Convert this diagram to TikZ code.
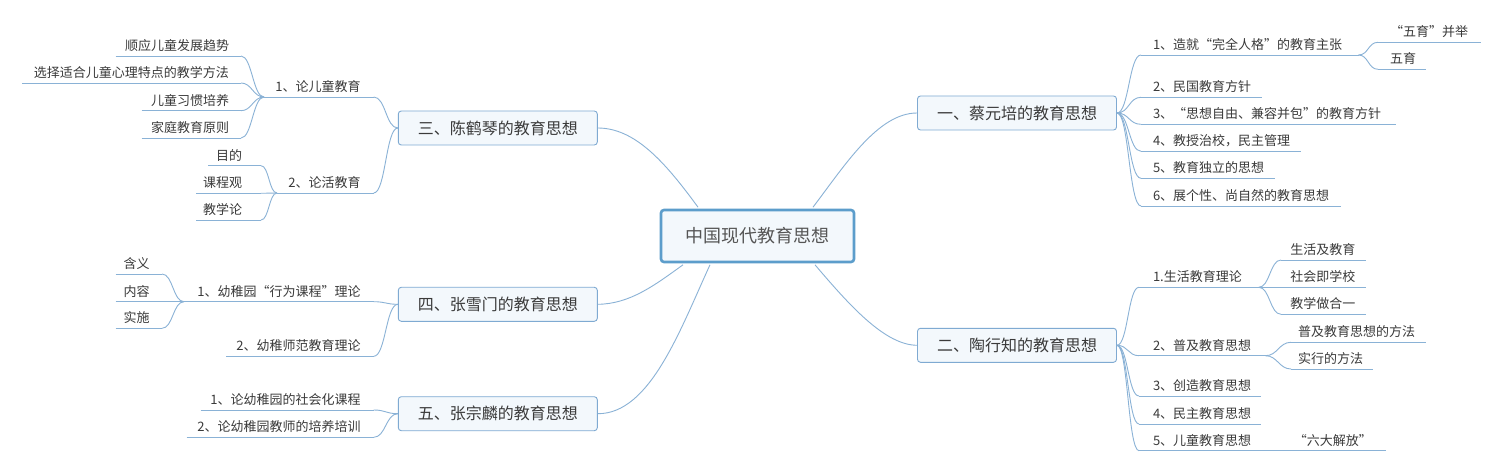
\documentclass[tikz,border=0pt]{standalone}
\usepackage{fontspec}
\setmainfont{Noto Sans CJK SC}
\usetikzlibrary{calc}
\definecolor{lnc}{HTML}{8AB2D6}
\definecolor{bdr}{HTML}{7FAAD2}
\definecolor{bfill}{HTML}{F3F8FC}
\definecolor{cbdr}{HTML}{5C9DCB}
\definecolor{txt}{HTML}{3A3A3A}
\definecolor{ctxt}{HTML}{555555}
% left item: name, xleft, xright, yline, text, gap
\newcommand\Lit[6]{\node[itm,anchor=south east] (#1) at (#3,#4) {\makebox[\dimexpr#3pt-#2pt\relax][r]{#5\hspace*{#6pt}}};
  \draw[ln] (#1.south west) -- (#1.south east);}
% right item
\newcommand\Rit[6]{\node[itm,anchor=south west] (#1) at (#2,#4) {\makebox[\dimexpr#3pt-#2pt\relax][l]{\hspace*{#6pt}#5}};
  \draw[ln] (#1.south west) -- (#1.south east);}
% connector with horizontal tangents
\newcommand\Cn[3]{\draw[ln] (#1) .. controls ($(#1)+(#3,0)$) and ($(#2)-(#3,0)$) .. (#2);}
\begin{document}
\begin{tikzpicture}[x=1pt,y=-1pt,
  ln/.style={draw=lnc,line width=0.9pt},
  itm/.style={inner sep=0pt,outer sep=0pt,text height=9.5pt,text depth=5.4pt,font=\fontsize{13}{13}\selectfont,text=txt},
  mainbox/.style={draw=bdr,fill=bfill,rounded corners=3pt,line width=0.9pt,minimum width=199pt,minimum height=34pt,inner sep=0pt,font=\fontsize{16}{16}\selectfont,text=txt},
  centerbox/.style={draw=cbdr,fill=bfill,rounded corners=3pt,line width=2.6pt,minimum width=193pt,minimum height=52pt,inner sep=0pt,font=\fontsize{18}{18}\selectfont,text=ctxt}]
\useasboundingbox[fill=white] (0,0) rectangle (1500,473);

% main nodes
\node[centerbox] (c) at (757.5,236) {中国现代教育思想};
\node[mainbox] (m1) at (1017,113) {一、蔡元培的教育思想};
\node[mainbox] (m2) at (1017,345.3) {二、陶行知的教育思想};
\node[mainbox] (m3) at (497.8,128) {三、陈鹤琴的教育思想};
\node[mainbox] (m4) at (497.8,304.3) {四、张雪门的教育思想};
\node[mainbox] (m5) at (497.8,413.7) {五、张宗麟的教育思想};

% main connectors
\draw[ln] ($(c.north)+(55.5,-1.5)$) .. controls (845,165) and (878,113) .. (m1.west);
\draw[ln] ($(c.south)+(57.5,1.5)$) .. controls (850,306) and (885,345) .. (m2.west);
\draw[ln] ($(c.north)+(-59.5,-1.5)$) .. controls (665,162) and (635,128) .. (m3.east);
\draw[ln] ($(c.south)+(-74.5,1.5)$) .. controls (655,285) and (630,304) .. (m4.east);
\draw[ln] ($(c.south)+(-47.5,1.5)$) .. controls (680,330) and (650,414) .. (m5.east);

% ---- 一 ----
\Rit{a1}{1141}{1358.5}{55}{1、造就“完全人格”的教育主张}{12}
\Rit{a11}{1378}{1481}{42.3}{“五育”并举}{12}
\Rit{a12}{1378}{1425.7}{69.3}{五育}{12}
\Rit{a2}{1141}{1261.6}{97.3}{2、民国教育方针}{12}
\Rit{a3}{1141}{1396}{124.3}{3、“思想自由、兼容并包”的教育方针}{12}
\Rit{a4}{1141}{1301}{151.3}{4、教授治校，民主管理}{12}
\Rit{a5}{1141}{1275}{178.3}{5、教育独立的思想}{12}
\Rit{a6}{1141}{1340.6}{206}{6、展个性、尚自然的教育思想}{12}
\foreach \n in {a1,a2,a3,a4,a5,a6}{\Cn{m1.east}{\n.south west}{12}}
\Cn{a1.south east}{a11.south west}{10}
\Cn{a1.south east}{a12.south west}{10}

% ---- 二 ----
\Rit{b1}{1139}{1258.8}{287.3}{1.生活教育理论}{14}
\Rit{b11}{1281}{1366}{260}{生活及教育}{9.4}
\Rit{b12}{1258.8}{1366}{287.3}{社会即学校}{31.6}
\Rit{b13}{1281}{1366}{314.3}{教学做合一}{9.4}
\Rit{b2}{1139}{1265.5}{355.7}{2、普及教育思想}{14}
\Rit{b21}{1291}{1425.7}{342.3}{普及教育思想的方法}{7}
\Rit{b22}{1291}{1373}{369}{实行的方法}{7}
\Rit{b3}{1139}{1260.8}{396}{3、创造教育思想}{14}
\Rit{b4}{1139}{1260.8}{424}{4、民主教育思想}{14}
\Rit{b5}{1139}{1260.8}{450.7}{5、儿童教育思想}{14}
\Rit{b51}{1260.8}{1386}{450.7}{“六大解放”}{33}
\foreach \n in {b1,b2,b3,b4,b5}{\Cn{m2.east}{\n.south west}{11}}
\Cn{b1.south east}{b11.south west}{11}
\Cn{b1.south east}{b13.south west}{11}
\Cn{b2.south east}{b21.south west}{12}
\Cn{b2.south east}{b22.south west}{12}

% ---- 三 ----
\Lit{c1}{264}{373.7}{97}{1、论儿童教育}{13}
\Lit{c11}{115.5}{241}{56}{顺应儿童发展趋势}{12}
\Lit{c12}{22}{241}{83}{选择适合儿童心理特点的教学方法}{12}
\Lit{c13}{141.5}{241}{110.7}{儿童习惯培养}{12}
\Lit{c14}{141.5}{241}{138}{家庭教育原则}{12}
\Lit{c2}{277}{373.7}{193}{2、论活教育}{13}
\Lit{c21}{208}{261}{165.7}{目的}{19}
\Lit{c22}{196}{261}{193.3}{课程观}{19}
\Lit{c23}{196}{261}{220}{教学论}{19}
\Cn{m3.west}{c1.south east}{-12}
\Cn{m3.west}{c2.south east}{-12}
\foreach \n in {c11,c12,c13,c14}{\Cn{c1.south west}{\n.south east}{-11}}
\foreach \n in {c21,c22,c23}{\Cn{c2.south west}{\n.south east}{-8}}

% ---- 四 ----
\Lit{d1}{184}{373.7}{301.7}{1、幼稚园“行为课程”理论}{13}
\Lit{d11}{115.5}{162}{274}{含义}{12.5}
\Lit{d12}{115.5}{184}{301.7}{内容}{34.5}
\Lit{d13}{115.5}{162}{328.3}{实施}{12.5}
\Lit{d2}{226}{373.7}{356.3}{2、幼稚师范教育理论}{13}
\Cn{m4.west}{d1.south east}{-12}
\Cn{m4.west}{d2.south east}{-12}
\Cn{d1.south west}{d11.south east}{-11}
\Cn{d1.south west}{d13.south east}{-11}

% ---- 五 ----
\Lit{e1}{200.5}{373.7}{410}{1、论幼稚园的社会化课程}{13}
\Lit{e2}{186.6}{373.7}{437.3}{2、论幼稚园教师的培养培训}{13}
\Cn{m5.west}{e1.south east}{-12}
\Cn{m5.west}{e2.south east}{-12}
\end{tikzpicture}
\end{document}
